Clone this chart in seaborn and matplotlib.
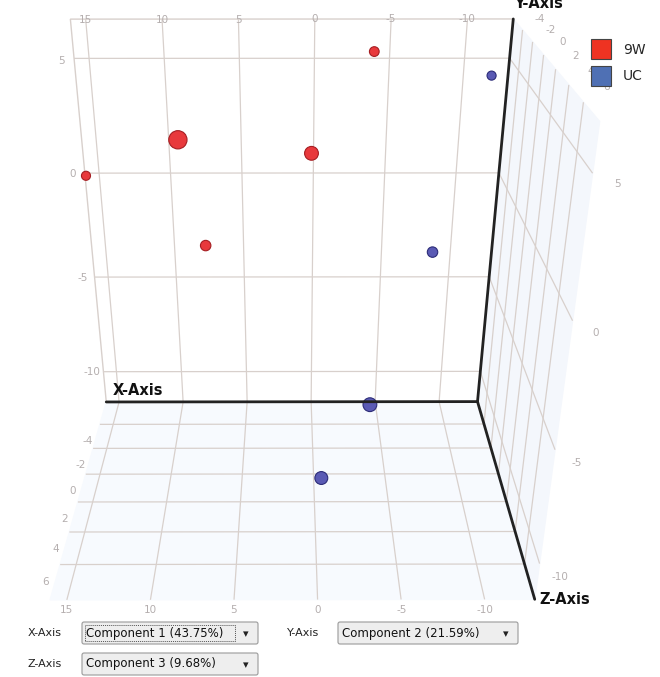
import numpy as np
import pandas as pd
import matplotlib
matplotlib.use('Agg')
import matplotlib.pyplot as plt
import seaborn as sns
from matplotlib.lines import Line2D
from matplotlib.patches import FancyBboxPatch, Rectangle

# ---------------- data ----------------
groups = ['9W', '9W', '9W', '9W', '9W', 'UC', 'UC', 'UC', 'UC']
comp1 = [-3.6, 7.3, 0.4, 15.3, 7.2, -11.3, -7.8, -3.5, -0.5]
comp2 = [6.0, 5.4, 3.6, 0.6, -1.7, 4.8, -2.0, -6.9, -11.2]
comp3 = [-3.0, 6.0, 2.0, -4.0, -2.0, -4.0, -2.0, 2.0, 1.0]
x_ticks = [15, 10, 5, 0, -5, -10]
y_ticks = [5, 0, -5, -10]
z_ticks = [-4, -2, 0, 2, 4, 6]
axis_names = ['X-Axis', 'Y-Axis', 'Z-Axis']
components = ['Component 1 (43.75%)', 'Component 2 (21.59%)', 'Component 3 (9.68%)']
legend_labels = ['9W', 'UC']

df = pd.DataFrame(dict(group=groups, c1=comp1, c2=comp2, c3=comp3))

sns.set_theme(style='white')
plt.rcParams['font.family'] = ['DejaVu Sans']
plt.rcParams['axes.unicode_minus'] = False
palette = {'9W': '#e8393c', 'UC': '#5a5ab4'}
edges = {'9W': '#a51e22', 'UC': '#2c2c78'}
legend_cols = {'9W': '#ee3322', 'UC': '#4f70b4'}
grid_col = '#d8d0cc'
tick_col = '#b4aeae'

fig = plt.figure(figsize=(6.6, 6.77), dpi=100)
ax = fig.add_axes([-0.04, 0.055, 0.94, 0.99], projection='3d')
zoom = 1.17
ax.set_proj_type('persp', focal_length=0.2712 * zoom)
ax.view_init(elev=27, azim=89.9)

XL = (-13.0, 16.0)
YL = (-6.0, 8.0)      # depth (Component 3)
ZL = (-11.7, 6.6)     # vertical (Component 2)
ax.set_xlim(*XL)
ax.set_ylim(*YL)
ax.set_zlim(*ZL)
ax.set_box_aspect((0.93, 0.7, 0.95), zoom=zoom)

ax.set_xticks(x_ticks)
ax.set_yticks(z_ticks)
ax.set_zticks(y_ticks)
for a in (ax.xaxis, ax.yaxis, ax.zaxis):
    a._axinfo['grid'].update(color=grid_col, linewidth=0.9)
    a.line.set_color((0, 0, 0, 0))
    a.set_pane_color((1, 1, 1, 1))
    a.pane.set_edgecolor(grid_col)
    a._axinfo['tick']['inward_factor'] = 0
    a._axinfo['tick']['outward_factor'] = 0
    a.label.set_visible(False)
    a.offsetText.set_visible(False)
ax.xaxis.set_pane_color((0.955, 0.97, 0.99, 1))
ax.zaxis.set_pane_color((0.97, 0.98, 0.995, 1))
ax.tick_params(axis='both', colors=tick_col, labelsize=7.5, pad=0)
ax.xaxis.set_tick_params(pad=-6)
for a in (ax.xaxis, ax.yaxis, ax.zaxis):
    try:
        a.set_ticks_position('both')
    except Exception:
        pass
ax.grid(True)

# data points
for g in legend_labels:
    sub = df[df.group == g]
    r_px = 6.0 * np.exp(0.07 * sub.c3.to_numpy())
    s = (2 * r_px * 72 / 100) ** 2
    ax.scatter(sub.c1, sub.c3, sub.c2, s=s, c=palette[g], edgecolors=edges[g],
               linewidths=0.8, depthshade=False, alpha=1)

# bold axis lines
ax.plot([XL[1], XL[0]], [YL[0], YL[0]], [ZL[0], ZL[0]], color='#222222', lw=2)
ax.plot([XL[0], XL[0]], [YL[0], YL[0]], [ZL[0], ZL[1]], color='#222222', lw=2)
ax.plot([XL[0], XL[0]], [YL[0], YL[1]], [ZL[0], ZL[0]], color='#222222', lw=2)
ax.text(XL[1] - 0.5, YL[0], ZL[0] + 0.2, axis_names[0], fontsize=10.5,
        fontweight='bold', ha='left', va='bottom', color='#111111')
ax.text(XL[0], YL[0], ZL[1] + 0.3, axis_names[1], fontsize=10.5,
        fontweight='bold', ha='left', va='bottom', color='#111111')
ax.text(XL[0] - 0.3, YL[1], ZL[0], axis_names[2], fontsize=10.5,
        fontweight='bold', ha='left', va='center', color='#111111')

# legend
handles = [Line2D([], [], marker='s', ls='', markersize=15,
                  markerfacecolor=legend_cols[g], markeredgecolor='#444444',
                  markeredgewidth=0.8) for g in legend_labels]
fig.legend(handles, legend_labels, loc='upper left', bbox_to_anchor=(0.87, 0.955),
           frameon=False, handletextpad=0.6, labelspacing=0.9,
           prop={'family': ['Liberation Sans Narrow', 'DejaVu Sans'], 'size': 10})

# bottom selector widgets
W, H = 660.0, 677.0
def widget(label, text, lx, bx, bw, y, focus=False):
    fig.text(lx / W, 1 - y / H, label, fontsize=8, va='center', ha='left', color='#222222')
    box = FancyBboxPatch((bx / W, 1 - (y + 11) / H), bw / W, 22 / H,
                         boxstyle='round,pad=0,rounding_size=0.003',
                         transform=fig.transFigure, facecolor='#eeeeee',
                         edgecolor='#9a9a9a', lw=0.8)
    fig.patches.append(box)
    if focus:
        fig.patches.append(Rectangle(((bx + 3) / W, 1 - (y + 8) / H), (bw - 26) / W, 16 / H,
                                     transform=fig.transFigure, fill=False,
                                     edgecolor='#555555', lw=0.7, ls=(0, (1, 1))))
    fig.text((bx + 4) / W, 1 - y / H, text, fontsize=8.5, va='center', ha='left', color='#111111')
    fig.text((bx + bw - 12) / W, 1 - (y + 1) / H, '\u25BE', fontsize=8, va='center',
             ha='center', color='#222222')

widget(axis_names[0], components[0], 28, 82, 176, 633, focus=True)
widget(axis_names[1], components[1], 287, 338, 180, 633)
widget(axis_names[2], components[2], 28, 82, 176, 664)

fig.savefig('out.png', dpi=100)
